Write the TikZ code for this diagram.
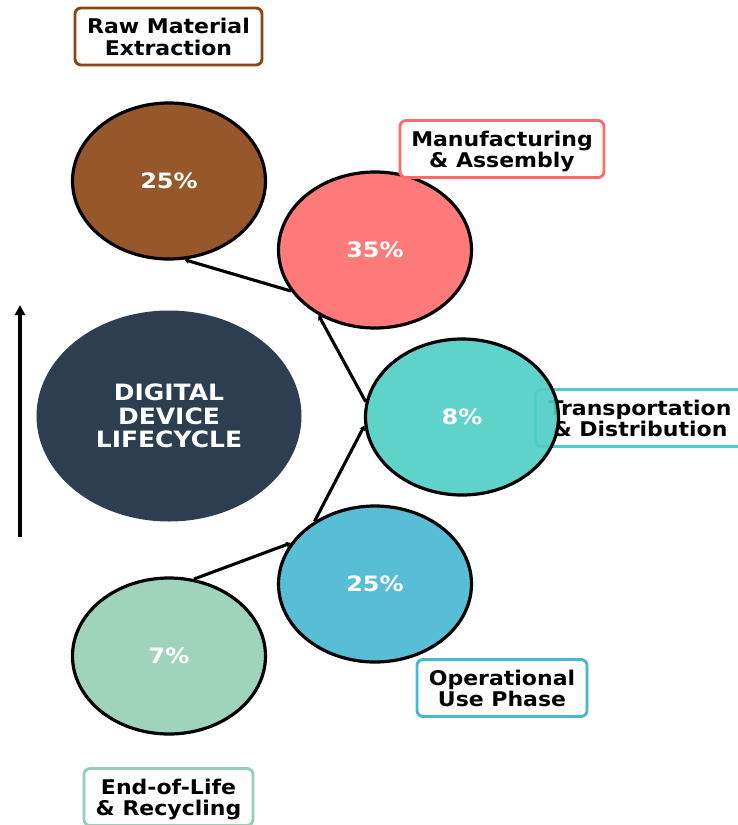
\documentclass[tikz,border=0pt]{standalone}
\usepackage{fontspec}
\setmainfont{DejaVu Sans}
\usepackage{graphicx}
\usetikzlibrary{shapes.geometric,arrows.meta}

\definecolor{cbrown}{HTML}{8B4513}
\definecolor{cpink}{HTML}{FF6B6B}
\definecolor{cteal}{HTML}{4ECDC4}
\definecolor{cblue}{HTML}{45B7D1}
\definecolor{cgreen}{HTML}{96CEB4}
\definecolor{cdark}{HTML}{2C3E50}

% text is set slightly compressed in height
\newcommand{\squash}[2][0.88]{\scalebox{1}[#1]{#2}}
% stacked lines, lowered so the letters sit centred in their frame
\newcommand{\lines}[2][0.92]{\raisebox{-3.3pt}[\height][\depth]{\squash[#1]{\begin{tabular}{@{}c@{}}#2\end{tabular}}}}

\tikzset{
  stage/.style={ellipse, draw=black, line width=3.2pt, fill=#1, fill opacity=0.9,
    text opacity=1, minimum width=193pt, minimum height=156pt, inner sep=0pt,
    text=white, font=\fontsize{24}{28}\selectfont\bfseries},
  tag/.style={rounded corners=6pt, draw=#1, line width=2.9pt, fill=white,
    minimum height=57pt, inner sep=0pt, text=black,
    font=\fontsize{22}{22.3}\selectfont\bfseries},
  link/.style={line width=3.1pt, -{Stealth[length=5pt,width=6pt]}},
}

\begin{document}
\begin{tikzpicture}[x=1pt,y=-1pt]
  \useasboundingbox (0,0) rectangle (737,825);

  % label sitting partly under its stage
  \node[tag=cteal, minimum width=209pt] (ltrans) at (640,418)
    {\lines{Transportation\\\& Distribution}};

  % central title
  \node[ellipse, fill=cdark, minimum width=265pt, minimum height=211pt,
        inner sep=0pt, text=white, font=\fontsize{25}{25.6}\selectfont\bfseries]
        (core) at (169,416) {\lines[0.9]{DIGITAL\\DEVICE\\LIFECYCLE}};

  % lifecycle stages
  \node[stage=cbrown] (raw)   at (169,181) {\squash{25\%}};
  \node[stage=cpink]  (manuf) at (375,250) {\squash{35\%}};
  \node[stage=cteal]  (trans) at (462,417) {\squash{8\%}};
  \node[stage=cblue]  (use)   at (375,584) {\squash{25\%}};
  \node[stage=cgreen] (eol)   at (169,656) {\squash{7\%}};

  % stage labels
  \node[tag=cbrown, minimum width=187pt] (lraw)   at (168.5,36.5) {\lines{Raw Material\\Extraction}};
  \node[tag=cpink,  minimum width=204pt] (lmanuf) at (502,149)    {\lines{Manufacturing\\\& Assembly}};
  \node[tag=cblue,  minimum width=170pt] (luse)   at (502,688)    {\lines{Operational\\Use Phase}};
  \node[tag=cgreen, minimum width=169pt] (leol)   at (168.5,797)  {\lines{End-of-Life\\\& Recycling}};

  % flow between stages
  \draw[link] (eol.72)    -- (use.154);
  \draw[link] (use.134)   -- (trans.185);
  \draw[link] (trans.171) -- (manuf.229);
  \draw[link] (manuf.206) -- (raw.-79);

  % direction arrow
  \coordinate (upfrom) at (20,537);
  \coordinate (upto)   at (20,305);
  \draw[line width=3.4pt, -{Triangle[length=10pt,width=10pt]}] (upfrom) -- (upto);
\end{tikzpicture}
\end{document}
